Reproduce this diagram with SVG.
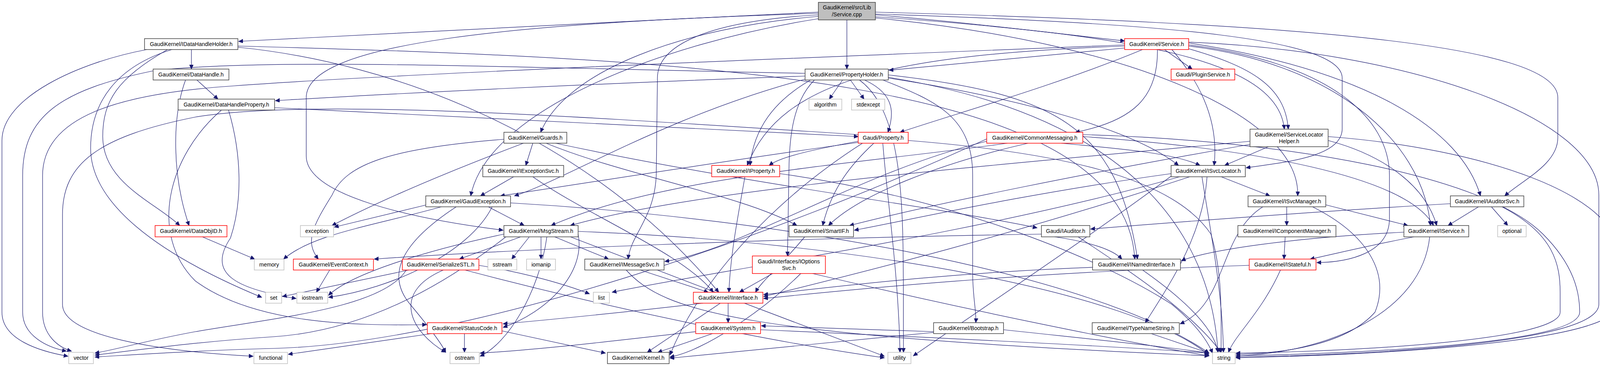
<svg xmlns="http://www.w3.org/2000/svg" width="4159" height="938" viewBox="0 0 4159 938">
<defs>
<style>
.node rect{fill:#ffffff;stroke:#404040;stroke-width:1.5}
.node.red rect{stroke:#ff0000}
.node.ext rect{stroke:#bfbfbf}
.node.root rect{fill:#bfbfbf}
.node text{font-family:"Liberation Sans",Arial,sans-serif;font-size:14px;fill:#000000;text-anchor:middle}
.edges path{fill:none;stroke:#191970;stroke-width:1.2;marker-end:url(#arr)}
</style>
<marker id="arr" markerUnits="userSpaceOnUse" markerWidth="12" markerHeight="11" refX="11" refY="5" orient="auto">
<path d="M0,0 L11,5 L0,10 z" fill="#191970" stroke="#191970" stroke-width="1"/>
</marker>
</defs>
<rect x="0" y="0" width="4159" height="938" fill="#ffffff"/>
<g class="edges" id="edges">
<path d="M2095,31 C1600,55 1000,85 611,106"/>
<path d="M2241,38 C2500,60 2700,85 2879,105"/>
<path d="M2168,51 L2168,177"/>
<path d="M2095,42 C1750,70 1450,180 1384,339"/>
<path d="M2095,48 C1700,110 1250,280 1205,502"/>
<path d="M2095,34 C1300,60 784,110 784,250 L784,400 C784,500 1050,560 1288,590"/>
<path d="M2095,38 C1800,55 1683,120 1683,200 L1680,450 C1675,560 1615,600 1608,664"/>
<path d="M2241,43 C2900,90 3270,150 3288,331"/>
<path d="M2241,36 C3000,60 3436,100 3436,200 L3436,330 C3436,400 3300,415 3190,430"/>
<path d="M2241,46 C2900,110 3330,300 3322,502"/>
<path d="M2241,31 C3300,60 3988,110 3988,250 L3988,353 C3988,420 3900,460 3852,502"/>
<path d="M490,127 L490,177"/>
<path d="M429,127 C300,200 263,260 263,350 C263,470 400,520 460,578"/>
<path d="M376,127 C200,160 5,250 5,360 L5,800 C5,870 100,900 174,913"/>
<path d="M440,127 C300,170 232,260 232,380 C232,520 400,650 670,762"/>
<path d="M609,118 C1800,150 2880,200 2905,664"/>
<path d="M609,121 C1000,160 1500,340 1840,749"/>
<path d="M2981,127 L3052,177"/>
<path d="M2879,123 L2276,180"/>
<path d="M2925,127 C2700,220 2450,290 2304,339"/>
<path d="M2963,127 C2965,250 2900,310 2753,339"/>
<path d="M3043,125 C3200,170 3290,220 3298,331"/>
<path d="M3000,127 C3080,220 3120,320 3108,424"/>
<path d="M2879,118 C2300,140 2000,200 1913,424"/>
<path d="M3043,118 C3400,160 3640,350 3662,578"/>
<path d="M3043,110 C3500,180 3740,330 3790,502"/>
<path d="M3043,108 C3600,130 4093,300 4093,500 L4093,780 C4093,880 3500,910 3164,915"/>
<path d="M3043,115 C3400,160 3557,300 3557,450 L3557,560 C3557,650 3450,672 3371,673"/>
<path d="M2879,115 C2000,150 1000,190 600,220 C300,240 109,300 109,450 L109,800 C109,860 150,890 183,900"/>
<path d="M504,205 L558,254"/>
<path d="M475,205 C440,300 440,450 484,578"/>
<path d="M2061,195 C1500,215 1000,240 705,258"/>
<path d="M2157,205 L2123,254"/>
<path d="M2177,205 L2212,254"/>
<path d="M2213,205 C2290,240 2290,290 2273,339"/>
<path d="M2075,205 C1980,260 1930,330 1920,424"/>
<path d="M2274,200 C2600,250 2900,330 3017,424"/>
<path d="M2061,203 C1700,300 1450,460 1317,502"/>
<path d="M2085,205 C2030,260 2022,350 2020,420 L2016,656"/>
<path d="M2260,205 C2400,260 2490,300 2490,450 L2490,700 C2490,760 2500,800 2498,827"/>
<path d="M2274,192 C2700,240 2860,320 2912,664"/>
<path d="M2200,205 C2330,300 2310,600 2313,903"/>
<path d="M2061,188 C1200,170 700,150 400,180 C150,230 58,300 58,450 L58,800 C58,860 120,890 170,900"/>
<path d="M2274,198 C2900,300 3100,600 3118,903"/>
<path d="M703,276 L2197,350"/>
<path d="M567,282 C430,400 380,600 500,720 C650,830 900,835 1092,832"/>
<path d="M585,282 C620,400 620,520 590,610 C530,700 600,740 758,765"/>
<path d="M1364,367 L1346,424"/>
<path d="M1340,367 C1200,420 1000,500 850,578"/>
<path d="M1290,357 C1000,380 886,420 850,500 C800,580 780,620 815,664"/>
<path d="M1398,367 C1600,450 1900,500 2040,578"/>
<path d="M1422,367 C1900,470 2400,530 2655,584"/>
<path d="M2197,362 C2100,380 2000,400 1969,424"/>
<path d="M2237,367 C2180,420 2130,480 2106,578"/>
<path d="M2197,365 C1800,420 1500,470 1281,502"/>
<path d="M2260,367 C2270,500 2300,700 2304,903"/>
<path d="M2208,367 C2000,500 1800,700 1715,910"/>
<path d="M2325,360 C2700,390 3000,450 3100,600 C3130,700 3126,800 3126,903"/>
<path d="M2197,345 C1500,300 800,250 500,300 C250,350 160,420 160,550 L160,780 C160,860 400,900 648,913"/>
<path d="M2717,367 C2850,380 3000,390 3072,424"/>
<path d="M2579,367 C2200,420 1700,450 1411,578"/>
<path d="M2632,367 C2400,420 2200,500 2121,578"/>
<path d="M2526,362 C2200,440 1900,640 1702,670"/>
<path d="M2772,350 C3200,380 3600,450 3670,578"/>
<path d="M2772,345 C3300,360 3800,450 3950,600 C4030,680 4044,750 4044,800 C4044,880 3500,905 3164,912"/>
<path d="M2526,356 C2000,600 1200,880 700,893 C500,898 330,910 243,915"/>
<path d="M3247,376 L3135,424"/>
<path d="M3200,362 C2600,420 1800,480 1460,578"/>
<path d="M3200,370 C2800,440 2400,520 2175,578"/>
<path d="M3400,360 C3550,400 3650,480 3678,578"/>
<path d="M3400,350 C3800,380 4142,500 4142,650 L4142,780 C4142,880 3500,910 3164,917"/>
<path d="M1315,453 L1230,502"/>
<path d="M1364,453 C1500,550 1750,650 1826,749"/>
<path d="M1907,453 C1890,550 1870,650 1866,749"/>
<path d="M1996,445 C2400,500 2800,650 3000,780 C3060,830 3090,870 3104,905"/>
<path d="M3126,453 L3251,502"/>
<path d="M2998,445 C2600,500 2300,570 2187,590"/>
<path d="M3046,453 C2600,600 2200,700 1955,760"/>
<path d="M3090,453 C3080,600 3000,720 2932,827"/>
<path d="M3020,453 C2500,600 1800,700 1567,749"/>
<path d="M3077,453 C3100,600 3130,750 3132,903"/>
<path d="M3000,450 C2800,600 2500,800 2338,912"/>
<path d="M1092,525 L856,582"/>
<path d="M1250,530 L1342,578"/>
<path d="M1130,530 C950,580 800,600 726,664"/>
<path d="M1168,530 C1000,640 1000,720 1050,780 C1100,840 1130,880 1141,903"/>
<path d="M1307,520 C2000,560 2800,700 3095,905"/>
<path d="M1260,530 C1200,650 1000,740 841,762"/>
<path d="M3294,530 L3294,578"/>
<path d="M3394,525 L3604,578"/>
<path d="M3233,530 C3120,600 3140,780 3021,830"/>
<path d="M3360,530 C3500,600 3560,700 3520,800 C3450,880 3300,905 3164,908"/>
<path d="M3785,530 L3707,578"/>
<path d="M3818,530 L3860,578"/>
<path d="M3713,522 C3400,540 3000,570 2792,587"/>
<path d="M3845,530 C3980,600 3994,680 3994,750 L3994,800 C3994,870 3500,900 3164,905"/>
<path d="M1333,607 L1176,664"/>
<path d="M1355,607 L1310,664"/>
<path d="M1385,607 L1385,664"/>
<path d="M1420,607 L1558,664"/>
<path d="M1290,600 C1100,640 900,700 841,757"/>
<path d="M1480,600 C1500,700 1400,800 1288,839"/>
<path d="M1480,593 C2200,620 2900,750 3095,910"/>
<path d="M1295,607 C1100,760 900,850 700,863 C500,876 330,900 243,910"/>
<path d="M1400,607 C1380,750 1300,880 1229,913"/>
<path d="M1460,607 C1700,700 2100,850 2264,913"/>
<path d="M2060,607 C2000,680 1950,720 1934,749"/>
<path d="M2666,600 C2000,610 1300,640 958,664"/>
<path d="M2700,607 C2790,620 2850,640 2872,664"/>
<path d="M2760,607 C2900,700 3050,800 3126,903"/>
<path d="M3290,607 L3287,664"/>
<path d="M3594,595 C3300,610 3100,640 3024,668"/>
<path d="M3620,607 C3500,630 3420,650 3354,664"/>
<path d="M3660,607 C3640,800 3400,905 3164,912"/>
<path d="M1639,692 L1813,749"/>
<path d="M1603,692 C1700,800 1900,860 3095,912"/>
<path d="M1978,701 L1893,749"/>
<path d="M2080,701 C2500,800 2900,880 3095,912"/>
<path d="M2050,701 C1950,800 1800,900 1715,915"/>
<path d="M2925,692 C3050,780 3110,850 3118,903"/>
<path d="M2797,685 C2400,700 2100,740 1955,755"/>
<path d="M3278,692 C3230,800 3160,860 3145,903"/>
<path d="M3198,680 C2600,700 2200,740 1955,765"/>
<path d="M844,692 L810,749"/>
<path d="M1047,692 L723,760"/>
<path d="M1226,680 C1350,700 1450,730 1509,753"/>
<path d="M1135,692 C1000,750 1050,850 1141,903"/>
<path d="M1040,692 C980,790 700,815 500,850 C380,872 300,895 243,905"/>
<path d="M1190,692 C1600,800 2000,880 2264,917"/>
<path d="M518,607 L652,664"/>
<path d="M1864,777 L1864,827"/>
<path d="M1800,777 C1600,800 1400,820 1288,830"/>
<path d="M1844,777 L1657,903"/>
<path d="M1824,855 L1684,903"/>
<path d="M1947,845 C2500,870 2900,890 3095,905"/>
<path d="M1781,850 C1600,870 1400,895 1229,905"/>
<path d="M1189,855 L1189,903"/>
<path d="M1105,855 L738,908"/>
<path d="M1285,848 L1550,905"/>
<path d="M2390,850 L1949,835"/>
<path d="M2569,845 C2800,870 3000,890 3095,905"/>
<path d="M2390,852 C2100,880 1900,900 1715,918"/>
<path d="M2947,855 L3095,905"/>
</g>
<g id="n-cpp" class="node root"><rect x="2095" y="6" width="146" height="45"/><text x="2168" y="24">GaudiKernel/src/Lib</text><text x="2168" y="42">/Service.cpp</text></g>
<g id="n-idhh" class="node"><rect x="370" y="99" width="239" height="28"/><text x="489.5" y="118">GaudiKernel/IDataHandleHolder.h</text></g>
<g id="n-svch" class="node red"><rect x="2879" y="99" width="164" height="28"/><text x="2961" y="118">GaudiKernel/Service.h</text></g>
<g id="n-dh" class="node"><rect x="392" y="177" width="194" height="28"/><text x="489" y="196">GaudiKernel/DataHandle.h</text></g>
<g id="n-ph" class="node"><rect x="2061" y="177" width="213" height="28"/><text x="2167.5" y="196">GaudiKernel/PropertyHolder.h</text></g>
<g id="n-plug" class="node red"><rect x="2998" y="177" width="163" height="28"/><text x="3079.5" y="196">Gaudi/PluginService.h</text></g>
<g id="n-dhp" class="node"><rect x="456" y="254" width="247" height="28"/><text x="579.5" y="273">GaudiKernel/DataHandleProperty.h</text></g>
<g id="n-alg" class="node ext"><rect x="2071" y="254" width="84" height="28"/><text x="2113" y="273">algorithm</text></g>
<g id="n-stdx" class="node ext"><rect x="2180" y="254" width="85" height="28"/><text x="2222.5" y="273">stdexcept</text></g>
<g id="n-guards" class="node"><rect x="1290" y="339" width="161" height="28"/><text x="1370.5" y="358">GaudiKernel/Guards.h</text></g>
<g id="n-prop" class="node red"><rect x="2197" y="339" width="128" height="28"/><text x="2261" y="358">Gaudi/Property.h</text></g>
<g id="n-cm" class="node red"><rect x="2526" y="339" width="246" height="28"/><text x="2649" y="358">GaudiKernel/CommonMessaging.h</text></g>
<g id="n-slh" class="node"><rect x="3200" y="331" width="200" height="45"/><text x="3300" y="350">GaudiKernel/ServiceLocator</text><text x="3300" y="367">Helper.h</text></g>
<g id="n-iexc" class="node"><rect x="1236" y="424" width="207" height="29"/><text x="1339.5" y="443">GaudiKernel/IExceptionSvc.h</text></g>
<g id="n-iprop" class="node red"><rect x="1822" y="424" width="174" height="29"/><text x="1909" y="443">GaudiKernel/IProperty.h</text></g>
<g id="n-isl" class="node"><rect x="2998" y="424" width="190" height="29"/><text x="3093" y="443">GaudiKernel/ISvcLocator.h</text></g>
<g id="n-gexc" class="node"><rect x="1090" y="502" width="217" height="28"/><text x="1198.5" y="521">GaudiKernel/GaudiException.h</text></g>
<g id="n-ism" class="node"><rect x="3195" y="502" width="199" height="28"/><text x="3294.5" y="521">GaudiKernel/ISvcManager.h</text></g>
<g id="n-iasvc" class="node"><rect x="3713" y="502" width="188" height="28"/><text x="3807" y="521">GaudiKernel/IAuditorSvc.h</text></g>
<g id="n-doid" class="node red"><rect x="397" y="578" width="184" height="29"/><text x="489" y="597">GaudiKernel/DataObjID.h</text></g>
<g id="n-exc" class="node ext"><rect x="769" y="578" width="85" height="29"/><text x="811.5" y="597">exception</text></g>
<g id="n-msg" class="node"><rect x="1290" y="578" width="190" height="29"/><text x="1385" y="597">GaudiKernel/MsgStream.h</text></g>
<g id="n-sif" class="node"><rect x="2020" y="578" width="165" height="29"/><text x="2102.5" y="597">GaudiKernel/SmartIF.h</text></g>
<g id="n-iaud" class="node"><rect x="2666" y="578" width="124" height="29"/><text x="2728" y="597">Gaudi/IAuditor.h</text></g>
<g id="n-icm" class="node"><rect x="3169" y="578" width="251" height="29"/><text x="3294.5" y="597">GaudiKernel/IComponentManager.h</text></g>
<g id="n-isvc" class="node"><rect x="3594" y="578" width="166" height="29"/><text x="3677" y="597">GaudiKernel/IService.h</text></g>
<g id="n-opt" class="node ext"><rect x="3834" y="578" width="73" height="29"/><text x="3870.5" y="597">optional</text></g>
<g id="n-mem" class="node ext"><rect x="651" y="664" width="76" height="28"/><text x="689" y="683">memory</text></g>
<g id="n-evc" class="node red"><rect x="751" y="664" width="205" height="28"/><text x="853.5" y="683">GaudiKernel/EventContext.h</text></g>
<g id="n-sstl" class="node red"><rect x="1030" y="664" width="196" height="28"/><text x="1128" y="683">GaudiKernel/SerializeSTL.h</text></g>
<g id="n-sstr" class="node ext"><rect x="1249" y="664" width="74" height="28"/><text x="1286" y="683">sstream</text></g>
<g id="n-iom" class="node ext"><rect x="1348" y="664" width="74" height="28"/><text x="1385" y="683">iomanip</text></g>
<g id="n-imsg" class="node"><rect x="1497" y="664" width="203" height="28"/><text x="1598.5" y="683">GaudiKernel/IMessageSvc.h</text></g>
<g id="n-iopt" class="node red"><rect x="1926" y="656" width="187" height="45"/><text x="2019.5" y="675">Gaudi/Interfaces/IOptions</text><text x="2019.5" y="692">Svc.h</text></g>
<g id="n-ini" class="node"><rect x="2797" y="664" width="225" height="28"/><text x="2909.5" y="683">GaudiKernel/INamedInterface.h</text></g>
<g id="n-ist" class="node red"><rect x="3198" y="664" width="171" height="28"/><text x="3283.5" y="683">GaudiKernel/IStateful.h</text></g>
<g id="n-set" class="node ext"><rect x="680" y="749" width="41" height="28"/><text x="700.5" y="768">set</text></g>
<g id="n-iost" class="node ext"><rect x="760" y="749" width="79" height="28"/><text x="799.5" y="768">iostream</text></g>
<g id="n-list" class="node ext"><rect x="1519" y="749" width="41" height="28"/><text x="1539.5" y="768">list</text></g>
<g id="n-iint" class="node red"><rect x="1775" y="749" width="178" height="28"/><text x="1864" y="768">GaudiKernel/IInterface.h</text></g>
<g id="n-sc" class="node red"><rect x="1094" y="827" width="191" height="28"/><text x="1189.5" y="846">GaudiKernel/StatusCode.h</text></g>
<g id="n-sys" class="node red"><rect x="1781" y="827" width="166" height="28"/><text x="1864" y="846">GaudiKernel/System.h</text></g>
<g id="n-boot" class="node"><rect x="2390" y="827" width="179" height="28"/><text x="2479.5" y="846">GaudiKernel/Bootstrap.h</text></g>
<g id="n-tns" class="node"><rect x="2796" y="827" width="223" height="28"/><text x="2907.5" y="846">GaudiKernel/TypeNameString.h</text></g>
<g id="n-vec" class="node ext"><rect x="176" y="903" width="63" height="29"/><text x="207.5" y="922">vector</text></g>
<g id="n-func" class="node ext"><rect x="650" y="903" width="86" height="29"/><text x="693" y="922">functional</text></g>
<g id="n-ost" class="node ext"><rect x="1152" y="903" width="75" height="29"/><text x="1189.5" y="922">ostream</text></g>
<g id="n-kern" class="node"><rect x="1555" y="903" width="158" height="29"/><text x="1634" y="922">GaudiKernel/Kernel.h</text></g>
<g id="n-util" class="node ext"><rect x="2273" y="903" width="59" height="29"/><text x="2302.5" y="922">utility</text></g>
<g id="n-str" class="node ext"><rect x="3104" y="903" width="58" height="29"/><text x="3133" y="922">string</text></g>
</svg>
